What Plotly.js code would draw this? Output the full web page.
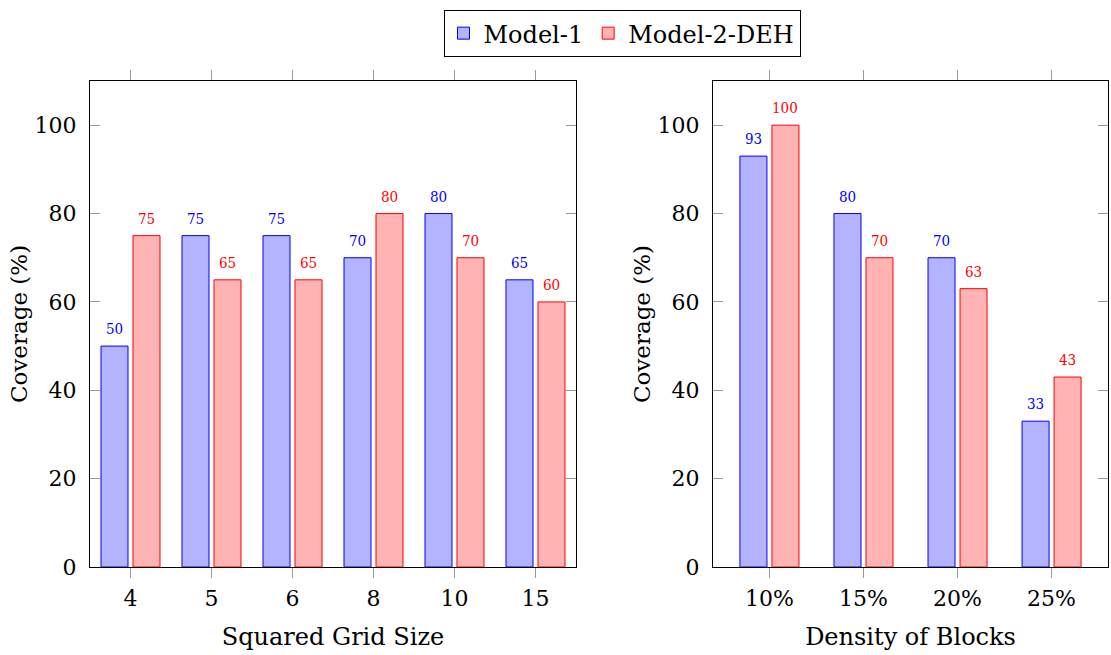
<!DOCTYPE html>
<html>
<head>
<meta charset="utf-8">
<script src="https://cdn.plot.ly/plotly-3.0.1.min.js"></script>
<style>html,body{margin:0;padding:0;background:#fff;}#chart{width:1111px;height:655px;}</style>
</head>
<body>
<div id="chart"></div>
<script>
// Data
const gridSizes = ['4', '5', '6', '8', '10', '15'];
const gridModel1 = [50, 75, 75, 70, 80, 65];
const gridModel2 = [75, 65, 65, 80, 70, 60];

const densities = ['10%', '15%', '20%', '25%'];
const densModel1 = [93, 80, 70, 33];
const densModel2 = [100, 70, 63, 43];

const seriesNames = ['Model-1', 'Model-2-DEH'];

// Styles
const FONT = 'DejaVu Serif, serif';
const LABEL_FONT = 'DejaVu Serif Condensed, DejaVu Serif, serif';
const BLUE = '#0000ff', BLUE_FILL = '#b3b3ff';
const RED = '#ff0000', RED_FILL = '#ffb3b3';

// Left plot: 81 px per category, right: 94 px per category; bars 27 px wide, centers at +-16 px
const pxL = 81, pxR = 94, barPx = 27, offPx = 16;

function barTrace(cats, vals, name, fill, line, xa, ya, px, sign, showLegend) {
  const w = barPx / px;
  const center = sign * offPx / px;
  return {
    type: 'bar', x: cats, y: vals, name: name,
    xaxis: xa, yaxis: ya,
    width: w, offset: center - w / 2,
    marker: {color: fill, line: {color: line, width: 1}},
    showlegend: showLegend, legendgroup: name
  };
}

const data = [
  barTrace(gridSizes, gridModel1, seriesNames[0], BLUE_FILL, BLUE, 'x', 'y', pxL, -1, true),
  barTrace(gridSizes, gridModel2, seriesNames[1], RED_FILL, RED, 'x', 'y', pxL, 1, true),
  barTrace(densities, densModel1, seriesNames[0], BLUE_FILL, BLUE, 'x2', 'y2', pxR, -1, false),
  barTrace(densities, densModel2, seriesNames[1], RED_FILL, RED, 'x2', 'y2', pxR, 1, false)
];

const annotations = [];
function addLabels(cats, vals, color, xref, yref, sign) {
  cats.forEach((c, i) => {
    annotations.push({
      x: i, y: vals[i], xref: xref, yref: yref,
      text: String(vals[i]), showarrow: false,
      xanchor: 'center', yanchor: 'bottom',
      xshift: sign * offPx, yshift: 6,
      font: {family: LABEL_FONT, size: 15, color: color}
    });
  });
}
addLabels(gridSizes, gridModel1, BLUE, 'x', 'y', -1);
addLabels(gridSizes, gridModel2, RED, 'x', 'y', 1);
addLabels(densities, densModel1, BLUE, 'x2', 'y2', -1);
addLabels(densities, densModel2, RED, 'x2', 'y2', 1);

const xCommon = {
  type: 'category', showgrid: false, zeroline: false,
  showline: true, linecolor: '#000', linewidth: 1, mirror: 'ticks',
  ticks: 'outside', ticklen: 10, tickcolor: '#999', tickwidth: 1,
  tickfont: {family: FONT, size: 22, color: '#000'},
  ticklabelstandoff: 2
};
const yCommon = {
  range: [0, 110], dtick: 20, tick0: 0, showgrid: false, zeroline: false,
  showline: true, linecolor: '#000', linewidth: 1, mirror: 'ticks',
  ticks: 'inside', ticklen: 10, tickcolor: '#999', tickwidth: 1,
  tickfont: {family: FONT, size: 22, color: '#000'},
  ticklabelstandoff: 8,
  title: {text: 'Coverage (%)', font: {family: FONT, size: 23, color: '#000'}, standoff: 0}
};

const layout = {
  width: 1111, height: 655,
  margin: {l: 90, r: 3, t: 81, b: 88},
  paper_bgcolor: '#fff', plot_bgcolor: '#fff',
  font: {family: FONT, color: '#000'},
  xaxis: Object.assign({}, xCommon, {domain: [0, 0.4774], range: [-0.5, 5.5], anchor: 'y',
    title: {text: 'Squared Grid Size', font: {family: FONT, size: 24, color: '#000'}, standoff: 17}}),
  yaxis: Object.assign({}, yCommon, {anchor: 'x'}),
  xaxis2: Object.assign({}, xCommon, {domain: [0.612, 1], range: [-0.6, 3.6], anchor: 'y2',
    title: {text: 'Density of Blocks', font: {family: FONT, size: 24, color: '#000'}, standoff: 17}}),
  yaxis2: Object.assign({}, yCommon, {anchor: 'x2'}),
  barmode: 'overlay',
  showlegend: true,
  legend: {
    orientation: 'h', x: 0.5226, xanchor: 'center', y: 1.146, yanchor: 'top',
    bordercolor: '#000', borderwidth: 1, bgcolor: '#fff',
    font: {family: FONT, size: 24, color: '#000'},
    itemwidth: 30, tracegroupgap: 0
  },
  annotations: annotations
};

Plotly.newPlot('chart', data, layout, {displayModeBar: false, staticPlot: true});
</script>
</body>
</html>
